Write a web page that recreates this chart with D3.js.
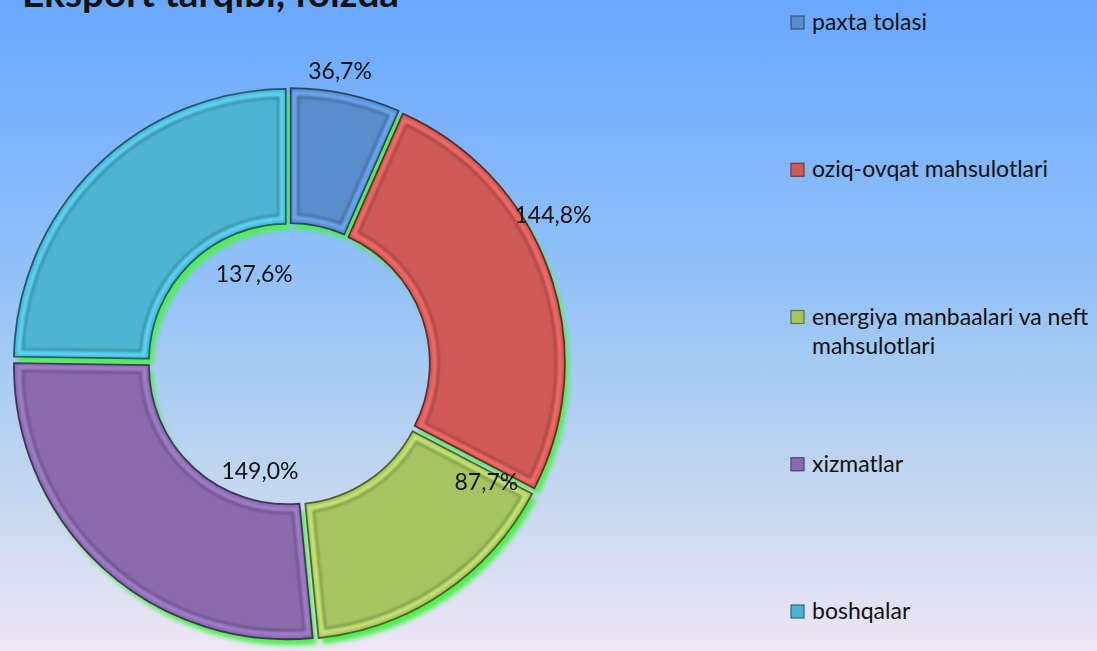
<!DOCTYPE html>
<html>
<head>
<meta charset="utf-8">
<script src="https://cdn.jsdelivr.net/npm/d3@7"></script>
<style>
  body { margin: 0; overflow: hidden; }
  svg { display: block; }
</style>
</head>
<body>
<svg id="chart"></svg>
<script>
// data
const categories = ["paxta tolasi", "oziq-ovqat mahsulotlari", "energiya manbaalari va neft mahsulotlari", "xizmatlar", "boshqalar"];
const legendLines = [["paxta tolasi"], ["oziq-ovqat mahsulotlari"], ["energiya manbaalari va neft", "mahsulotlari"], ["xizmatlar"], ["boshqalar"]];
const values = [36.7, 144.8, 87.7, 149.0, 137.6];
const valueLabels = ["36,7%", "144,8%", "87,7%", "149,0%", "137,6%"];
const colors = ["#5a8dcc", "#d05a57", "#a6c460", "#8a6bae", "#4db5d2"];

// where excel dropped each label: [angle in degrees, radius]
const labelAt = [[9.9, 297], [60.6, 303], [120.9, 230], [195.2, 111], [339, 97]];

const width = 1097, height = 651;
const cx = 289, cy = 364, R = 273, r0 = 138, explode = 3;

const svg = d3.select("#chart").attr("width", width).attr("height", height);
const defs = svg.append("defs");

// background
const bg = defs.append("linearGradient").attr("id", "bg").attr("x1", 0).attr("y1", 0).attr("x2", 0).attr("y2", 1);
[[0, "#69a8ff"], [0.45, "#95c3f7"], [0.75, "#c3d7ef"], [1, "#eee6f5"]].forEach(s =>
  bg.append("stop").attr("offset", s[0]).attr("stop-color", s[1]));
svg.append("rect").attr("width", width).attr("height", height).attr("fill", "url(#bg)");

// green drop shadow
const sh = defs.append("filter").attr("id", "glow").attr("x", "-20%").attr("y", "-20%").attr("width", "140%").attr("height", "140%");
sh.append("feGaussianBlur").attr("stdDeviation", 2.2);

const soft = defs.append("filter").attr("id", "soft");
soft.append("feGaussianBlur").attr("stdDeviation", 0.9);

// title (cut by the top edge in the original)
svg.append("text")
    .attr("x", 22)
    .attr("y", 7)
    .attr("textLength", 377)
    .attr("lengthAdjust", "spacingAndGlyphs")
    .style("font-family", "Lato, 'Open Sans', sans-serif")
    .style("font-weight", "bold")
    .style("font-size", "38px")
    .style("fill", "#111")
    .text("Eksport tarqibi, foizda");

const pie = d3.pie().sort(null).value(d => d);
const arcs = pie(values);

const arc = d3.arc().innerRadius(r0).outerRadius(R).padAngle(0.008).padRadius(R);
const inset = d3.arc().innerRadius(r0 + 5).outerRadius(R - 5).padAngle(0.10).padRadius(100);
const inset2 = d3.arc().innerRadius(r0 + 9).outerRadius(R - 9).padAngle(0.18).padRadius(100);

const off = d => {
  const mid = (d.startAngle + d.endAngle) / 2;
  return d3.pointRadial(mid, explode);
};

const chart = svg.append("g").attr("transform", `translate(${cx},${cy})`);

// shadow layer
chart.append("g")
    .attr("transform", "translate(4,6)")
    .attr("filter", "url(#glow)")
  .selectAll("path")
  .data(arcs)
  .join("path")
    .attr("transform", d => `translate(${off(d)})`)
    .attr("d", arc)
    .attr("fill", "#4ef04e");

const slices = chart.selectAll(".slice")
  .data(arcs)
  .join("g")
    .attr("class", "slice")
    .attr("transform", d => `translate(${off(d)})`);

slices.append("path")
    .attr("d", arc)
    .attr("fill", (d, i) => colors[i])
    .attr("stroke", (d, i) => d3.color(colors[i]).darker(2))
    .attr("stroke-width", 1.8);

// bevel: light ridge then dark groove
slices.append("path")
    .attr("d", inset)
    .attr("fill", "none")
    .attr("stroke", (d, i) => d3.color(colors[i]).brighter(0.45))
    .attr("stroke-width", 3.5)
    .attr("filter", "url(#soft)");

slices.append("path")
    .attr("d", inset2)
    .attr("fill", "none")
    .attr("stroke", (d, i) => d3.color(colors[i]).darker(1))
    .attr("stroke-width", 1.8)
    .attr("stroke-opacity", 0.85)
    .attr("filter", "url(#soft)");

// value labels
chart.selectAll(".val")
  .data(arcs)
  .join("text")
    .attr("class", "val")
    .attr("transform", (d, i) => {
      const p = d3.pointRadial(labelAt[i][0] * Math.PI / 180, labelAt[i][1]);
      return `translate(${p})`;
    })
    .attr("dy", "0.35em")
    .attr("text-anchor", "middle")
    .style("font-family", "Lato, 'Open Sans', sans-serif")
    .style("font-size", "23px")
    .style("fill", "#111")
    .text((d, i) => valueLabels[i]);

// legend
const legY = d3.scaleLinear().domain([0, categories.length - 1]).range([30, 619]);
const legend = svg.append("g").selectAll("g")
  .data(categories)
  .join("g")
    .attr("transform", (d, i) => `translate(790,${legY(i)})`);

legend.append("rect")
    .attr("x", 1)
    .attr("y", -14)
    .attr("width", 13)
    .attr("height", 13)
    .attr("fill", (d, i) => colors[i])
    .attr("stroke", (d, i) => d3.color(colors[i]).darker(1.5))
    .attr("stroke-width", 1.2);

legend.append("text")
    .style("font-family", "Lato, 'Open Sans', sans-serif")
    .style("font-size", "23px")
    .style("fill", "#111")
  .selectAll("tspan")
  .data((d, i) => legendLines[i])
  .join("tspan")
    .attr("x", 22)
    .attr("y", (d, j) => j * 29)
    .text(d => d);
</script>
</body>
</html>
